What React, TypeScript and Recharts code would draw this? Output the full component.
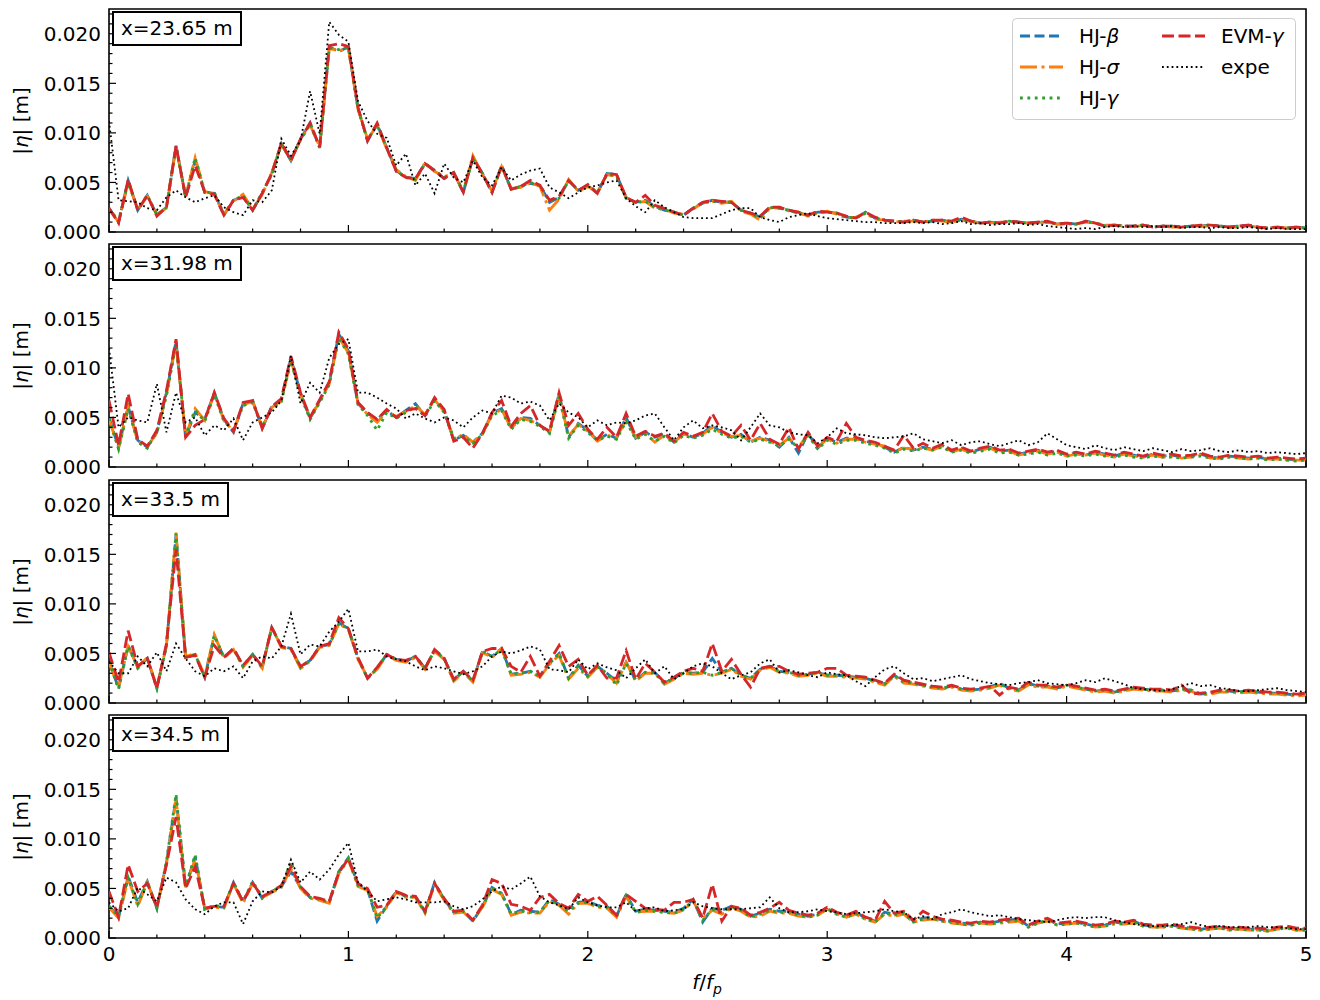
import React from 'react';
import { LineChart, Line, XAxis, YAxis, ReferenceArea } from 'recharts';

// frequency axis f/fp
const freq = [
  0, 0.04, 0.08, 0.12, 0.16, 0.2, 0.24, 0.28, 0.32, 0.36,
  0.4, 0.44, 0.48, 0.52, 0.56, 0.6, 0.64, 0.68, 0.72, 0.76,
  0.8, 0.84, 0.88, 0.92, 0.96, 1, 1.04, 1.08, 1.12, 1.16,
  1.2, 1.24, 1.28, 1.32, 1.36, 1.4, 1.44, 1.48, 1.52, 1.56,
  1.6, 1.64, 1.68, 1.72, 1.76, 1.8, 1.84, 1.88, 1.92, 1.96,
  2, 2.04, 2.08, 2.12, 2.16, 2.2, 2.24, 2.28, 2.32, 2.36,
  2.4, 2.44, 2.48, 2.52, 2.56, 2.6, 2.64, 2.68, 2.72, 2.76,
  2.8, 2.84, 2.88, 2.92, 2.96, 3, 3.04, 3.08, 3.12, 3.16,
  3.2, 3.24, 3.28, 3.32, 3.36, 3.4, 3.44, 3.48, 3.52, 3.56,
  3.6, 3.64, 3.68, 3.72, 3.76, 3.8, 3.84, 3.88, 3.92, 3.96,
  4, 4.04, 4.08, 4.12, 4.16, 4.2, 4.24, 4.28, 4.32, 4.36,
  4.4, 4.44, 4.48, 4.52, 4.56, 4.6, 4.64, 4.68, 4.72, 4.76,
  4.8, 4.84, 4.88, 4.92, 4.96, 5,
];

// |eta| values, in units of 1e-4 m
// ---- x = 23.65 m ----
const hjBeta1 = [
  24, 10, 52, 22, 37, 17, 25, 87, 35, 72,
  40, 39, 17, 32, 36, 22, 39, 59, 89, 72,
  94, 110, 85, 187, 182, 187, 125, 92, 109, 85,
  62, 55, 54, 69, 62, 54, 60, 40, 75, 59,
  40, 67, 43, 46, 49, 47, 30, 35, 52, 42,
  47, 39, 59, 58, 34, 30, 32, 26, 22, 20,
  17, 24, 29, 32, 30, 30, 22, 19, 15, 25,
  24, 22, 19, 17, 20, 20, 19, 15, 14, 20,
  14, 12, 11, 10, 12, 10, 11, 12, 10, 13,
  11, 9, 10, 9, 11, 10, 9, 10, 10, 8,
  9, 8, 11, 9, 6, 7, 6, 6, 7, 5,
  6, 6, 5, 6, 6, 7, 6, 5, 6, 7,
  5, 4, 5, 4, 5, 4,
];
const hjSigma1 = [
  23, 10, 50, 23, 36, 18, 24, 86, 36, 75,
  41, 38, 18, 31, 38, 23, 38, 60, 88, 73,
  93, 108, 86, 185, 183, 185, 124, 94, 107, 84,
  63, 56, 52, 70, 61, 56, 59, 41, 77, 58,
  41, 66, 44, 45, 50, 46, 22, 33, 53, 41,
  46, 40, 58, 56, 35, 29, 31, 24, 23, 19,
  18, 23, 30, 31, 29, 31, 21, 18, 12, 24,
  25, 21, 20, 16, 19, 21, 18, 14, 15, 19,
  13, 12, 10, 11, 11, 10, 12, 11, 10, 12,
  11, 9, 9, 10, 10, 10, 9, 9, 10, 8,
  8, 8, 10, 9, 7, 7, 6, 5, 7, 5,
  6, 5, 5, 6, 6, 6, 6, 5, 5, 6,
  5, 4, 5, 4, 4, 4,
];
const hjGamma1 = [
  24, 11, 50, 23, 37, 17, 25, 86, 36, 75,
  40, 40, 18, 32, 37, 22, 40, 58, 88, 73,
  93, 109, 85, 186, 184, 186, 124, 93, 108, 85,
  62, 55, 53, 69, 62, 55, 60, 41, 74, 59,
  40, 66, 43, 46, 50, 47, 31, 34, 52, 42,
  47, 40, 58, 57, 34, 30, 31, 25, 22, 20,
  17, 24, 29, 31, 30, 30, 22, 19, 14, 25,
  24, 22, 19, 17, 20, 20, 19, 15, 14, 19,
  14, 12, 11, 10, 12, 10, 11, 12, 10, 12,
  11, 9, 10, 9, 11, 10, 9, 10, 10, 8,
  9, 8, 10, 9, 6, 7, 6, 6, 7, 5,
  6, 6, 5, 6, 6, 7, 6, 5, 6, 6,
  5, 4, 5, 4, 5, 4,
];
const evmGamma1 = [
  24, 9, 53, 22, 37, 16, 25, 87, 35, 67,
  40, 38, 17, 32, 35, 22, 39, 59, 90, 72,
  94, 110, 86, 188, 190, 187, 126, 92, 110, 85,
  61, 55, 54, 69, 62, 54, 60, 40, 75, 59,
  40, 67, 43, 46, 52, 47, 32, 36, 52, 42,
  48, 39, 59, 58, 35, 30, 37, 27, 24, 20,
  17, 24, 30, 32, 31, 30, 22, 19, 16, 25,
  25, 22, 20, 17, 21, 20, 19, 16, 14, 20,
  15, 12, 11, 10, 12, 10, 12, 12, 11, 15,
  11, 9, 10, 9, 11, 10, 9, 10, 11, 8,
  9, 8, 11, 9, 6, 7, 6, 6, 7, 5,
  6, 6, 5, 6, 7, 7, 6, 5, 6, 7,
  5, 4, 5, 4, 5, 4,
];
const expe1 = [
  112, 32, 31, 30, 24, 22, 35, 42, 35, 30,
  34, 37, 25, 20, 17, 32, 30, 42, 94, 77,
  92, 142, 99, 212, 199, 192, 132, 112, 99, 95,
  67, 79, 47, 59, 39, 69, 55, 50, 72, 55,
  47, 65, 52, 58, 62, 64, 45, 40, 34, 40,
  45, 47, 50, 52, 34, 26, 20, 32, 25, 20,
  15, 14, 14, 14, 18, 22, 24, 24, 15, 12,
  10, 15, 17, 19, 16, 14, 13, 12, 11, 10,
  10, 9, 9, 9, 10, 9, 10, 8, 9, 11,
  8, 9, 7, 8, 8, 9, 7, 8, 6, 5,
  4, 3, 4, 3, 5, 6, 5, 6, 5, 6,
  5, 6, 4, 5, 5, 4, 5, 4, 4, 5,
  4, 3, 4, 3, 3, 3,
];

// ---- x = 31.98 m ----
const hjBeta2 = [
  50, 20, 61, 27, 20, 35, 75, 127, 30, 55,
  48, 75, 48, 35, 64, 67, 39, 61, 68, 110,
  74, 49, 67, 85, 134, 117, 64, 54, 48, 57,
  50, 57, 64, 52, 69, 57, 27, 32, 25, 34,
  54, 59, 40, 50, 49, 42, 35, 74, 30, 44,
  37, 27, 33, 29, 50, 29, 35, 30, 33, 25,
  34, 30, 34, 42, 35, 30, 33, 25, 30, 27,
  20, 30, 14, 34, 19, 29, 25, 29, 29, 26,
  24, 20, 15, 20, 17, 20, 18, 22, 16, 19,
  15, 18, 20, 16, 17, 13, 15, 17, 14, 16,
  12, 14, 12, 15, 13, 11, 14, 12, 10, 13,
  11, 12, 10, 11, 13, 10, 9, 11, 10, 9,
  10, 8, 9, 8, 7, 8,
];
const hjSigma2 = [
  48, 19, 60, 26, 21, 34, 73, 125, 31, 59,
  47, 74, 47, 36, 63, 66, 40, 60, 67, 108,
  73, 50, 66, 84, 131, 115, 65, 53, 45, 56,
  51, 56, 62, 53, 68, 56, 28, 33, 25, 33,
  53, 58, 39, 49, 47, 42, 36, 72, 31, 43,
  36, 26, 32, 30, 47, 30, 34, 25, 32, 25,
  33, 31, 33, 40, 34, 31, 32, 26, 29, 26,
  22, 29, 20, 33, 20, 28, 24, 28, 28, 25,
  23, 21, 16, 19, 18, 19, 17, 21, 15, 18,
  14, 17, 19, 15, 16, 12, 14, 16, 13, 15,
  11, 13, 12, 14, 12, 10, 13, 11, 10, 12,
  10, 11, 9, 10, 12, 9, 9, 10, 9, 8,
  9, 8, 8, 7, 7, 7,
];
const hjGamma2 = [
  49, 18, 59, 25, 19, 36, 72, 124, 32, 57,
  46, 73, 46, 37, 62, 65, 41, 59, 66, 107,
  72, 48, 65, 83, 130, 114, 63, 52, 37, 55,
  49, 55, 61, 51, 67, 55, 29, 31, 24, 33,
  52, 57, 38, 48, 46, 41, 34, 71, 29, 42,
  35, 27, 31, 28, 46, 28, 33, 26, 31, 24,
  32, 29, 32, 38, 33, 29, 31, 25, 28, 25,
  21, 28, 19, 32, 18, 27, 23, 27, 27, 24,
  22, 19, 14, 18, 16, 19, 17, 20, 15, 17,
  14, 16, 18, 14, 15, 12, 13, 15, 12, 14,
  11, 12, 11, 13, 11, 10, 12, 10, 9, 11,
  10, 10, 9, 10, 11, 9, 8, 10, 9, 8,
  9, 7, 8, 7, 6, 7,
];
const evmGamma2 = [
  67, 22, 74, 28, 21, 37, 77, 129, 30, 42,
  48, 75, 49, 36, 65, 67, 39, 61, 69, 112,
  75, 50, 68, 86, 136, 119, 65, 55, 48, 58,
  50, 57, 59, 52, 70, 58, 26, 30, 19, 34,
  55, 67, 41, 54, 62, 42, 36, 75, 42, 54,
  38, 28, 40, 30, 54, 31, 36, 31, 34, 26,
  35, 31, 35, 54, 36, 31, 42, 27, 44, 28,
  23, 40, 18, 35, 21, 30, 26, 44, 30, 27,
  25, 21, 17, 32, 19, 24, 19, 23, 17, 20,
  16, 19, 21, 17, 18, 14, 16, 18, 15, 17,
  13, 15, 13, 16, 14, 12, 15, 13, 11, 14,
  12, 13, 11, 12, 14, 11, 10, 12, 11, 10,
  11, 9, 10, 9, 8, 9,
];
const expe2 = [
  120, 40, 50, 47, 45, 84, 35, 75, 45, 50,
  32, 42, 37, 49, 27, 45, 50, 55, 67, 112,
  64, 85, 75, 110, 124, 129, 75, 75, 70, 64,
  59, 49, 54, 49, 45, 50, 47, 40, 50, 57,
  54, 72, 70, 64, 66, 62, 47, 64, 55, 50,
  40, 47, 42, 45, 44, 47, 52, 54, 40, 27,
  40, 47, 39, 42, 40, 37, 27, 40, 54, 42,
  40, 35, 33, 32, 24, 30, 39, 34, 33, 32,
  30, 29, 30, 31, 34, 28, 26, 24, 27, 22,
  25, 26, 23, 21, 24, 27, 22, 25, 34, 28,
  22, 20, 18, 22, 19, 17, 20, 18, 16, 19,
  17, 15, 18, 16, 17, 19, 16, 15, 17, 15,
  16, 14, 15, 14, 13, 14,
];

// ---- x = 33.5 m ----
const hjBeta3 = [
  42, 15, 58, 36, 45, 15, 58, 170, 46, 49,
  26, 68, 46, 55, 37, 49, 36, 76, 57, 55,
  36, 43, 57, 59, 81, 75, 45, 25, 35, 49,
  44, 42, 47, 35, 53, 45, 23, 32, 22, 52,
  47, 55, 29, 30, 32, 27, 40, 50, 25, 38,
  27, 37, 30, 22, 41, 23, 31, 31, 20, 25,
  31, 30, 31, 45, 31, 35, 28, 25, 34, 37,
  32, 31, 28, 29, 31, 28, 28, 27, 26, 25,
  22, 19, 28, 21, 20, 18, 16, 15, 17, 14,
  13, 14, 16, 20, 15, 13, 20, 17, 17, 15,
  18, 16, 14, 12, 13, 11, 13, 15, 14, 13,
  13, 12, 14, 13, 9, 10, 12, 12, 11, 12,
  11, 10, 10, 9, 8, 9,
];
const hjSigma3 = [
  41, 16, 57, 36, 46, 16, 58, 172, 47, 50,
  27, 69, 45, 54, 36, 48, 35, 77, 56, 54,
  35, 42, 56, 58, 80, 74, 44, 26, 34, 48,
  43, 41, 46, 34, 52, 44, 22, 31, 21, 51,
  46, 55, 28, 29, 31, 26, 39, 48, 24, 35,
  26, 36, 29, 20, 41, 22, 30, 30, 19, 24,
  30, 29, 30, 28, 30, 34, 27, 24, 33, 36,
  31, 30, 27, 28, 30, 27, 27, 26, 25, 24,
  21, 18, 27, 20, 19, 17, 15, 14, 16, 13,
  12, 13, 15, 18, 14, 12, 18, 16, 16, 14,
  17, 15, 13, 11, 12, 10, 12, 14, 13, 12,
  12, 11, 13, 12, 8, 9, 11, 11, 10, 11,
  10, 9, 9, 8, 7, 8,
];
const hjGamma3 = [
  42, 14, 57, 35, 45, 15, 57, 171, 46, 49,
  26, 68, 46, 55, 37, 49, 36, 76, 57, 55,
  36, 43, 57, 59, 80, 75, 45, 25, 35, 49,
  44, 42, 47, 35, 53, 45, 23, 32, 22, 52,
  47, 54, 29, 30, 32, 27, 40, 50, 25, 37,
  27, 37, 30, 18, 40, 23, 31, 30, 20, 25,
  30, 30, 31, 28, 31, 35, 28, 25, 34, 37,
  32, 31, 28, 29, 31, 28, 28, 27, 26, 25,
  22, 19, 28, 21, 20, 18, 16, 15, 17, 14,
  13, 14, 16, 19, 15, 13, 19, 17, 17, 15,
  18, 16, 14, 12, 13, 11, 13, 15, 14, 13,
  13, 12, 14, 13, 9, 10, 12, 12, 11, 12,
  11, 10, 10, 9, 8, 9,
];
const evmGamma3 = [
  51, 21, 73, 37, 45, 15, 60, 155, 46, 48,
  26, 58, 46, 55, 38, 49, 37, 76, 57, 55,
  37, 43, 57, 60, 86, 75, 46, 25, 36, 49,
  44, 43, 47, 35, 54, 45, 24, 32, 23, 52,
  55, 55, 37, 31, 47, 27, 42, 58, 37, 44,
  28, 38, 25, 25, 53, 24, 40, 31, 21, 26,
  32, 35, 32, 60, 32, 44, 29, 16, 35, 37,
  37, 32, 29, 30, 31, 35, 35, 28, 27, 26,
  23, 20, 29, 23, 21, 19, 17, 16, 18, 15,
  14, 15, 17, 8, 16, 14, 21, 18, 18, 16,
  19, 17, 15, 13, 14, 12, 14, 16, 15, 14,
  14, 13, 18, 9, 10, 11, 13, 13, 12, 13,
  12, 11, 11, 10, 9, 10,
];
const expe3 = [
  42, 30, 30, 47, 37, 51, 32, 60, 45, 32,
  27, 35, 32, 37, 25, 42, 47, 45, 57, 90,
  49, 59, 57, 72, 82, 95, 52, 52, 54, 47,
  44, 42, 37, 33, 37, 35, 32, 29, 32, 37,
  47, 52, 50, 53, 57, 54, 34, 33, 31, 44,
  34, 40, 36, 33, 25, 35, 44, 30, 37, 24,
  30, 37, 40, 37, 30, 24, 28, 31, 40, 44,
  31, 33, 31, 28, 26, 31, 29, 28, 22, 17,
  26, 34, 37, 30, 24, 25, 22, 24, 26, 28,
  24, 22, 20, 19, 18, 20, 21, 23, 20, 19,
  18, 20, 23, 21, 25, 22, 19, 15, 14, 13,
  12, 14, 17, 20, 17, 18, 15, 14, 12, 12,
  13, 14, 15, 13, 12, 11,
];

// ---- x = 34.5 m ----
const hjBeta4 = [
  32, 21, 62, 36, 57, 30, 76, 142, 52, 82,
  29, 32, 31, 56, 36, 56, 40, 47, 52, 67,
  51, 41, 39, 36, 67, 81, 54, 49, 17, 32,
  47, 42, 42, 26, 56, 39, 26, 27, 17, 32,
  51, 45, 24, 28, 27, 26, 39, 34, 30, 36,
  37, 33, 32, 22, 44, 27, 29, 28, 27, 26,
  30, 39, 16, 30, 28, 32, 29, 22, 25, 29,
  27, 27, 24, 22, 24, 31, 25, 22, 26, 20,
  17, 26, 24, 26, 17, 20, 21, 18, 17, 15,
  14, 16, 15, 17, 18, 19, 12, 16, 19, 14,
  15, 16, 14, 12, 13, 16, 15, 17, 13, 12,
  12, 13, 11, 10, 9, 10, 11, 9, 10, 9,
  9, 8, 10, 11, 9, 9,
];
const hjSigma4 = [
  31, 20, 60, 32, 56, 31, 75, 140, 51, 80,
  30, 31, 30, 55, 35, 55, 41, 46, 51, 70,
  50, 40, 38, 35, 65, 79, 52, 48, 22, 31,
  46, 41, 41, 25, 54, 38, 25, 26, 18, 31,
  49, 44, 23, 26, 25, 25, 37, 33, 24, 35,
  35, 31, 30, 21, 42, 26, 27, 27, 26, 25,
  28, 37, 20, 28, 24, 30, 27, 21, 22, 27,
  25, 25, 22, 21, 23, 29, 24, 21, 24, 19,
  16, 24, 22, 24, 16, 18, 19, 17, 15, 14,
  13, 15, 14, 15, 16, 17, 11, 15, 17, 13,
  14, 15, 13, 11, 12, 14, 14, 15, 12, 11,
  11, 12, 10, 9, 8, 9, 10, 8, 9, 8,
  8, 7, 9, 10, 8, 8,
];
const hjGamma4 = [
  32, 22, 61, 34, 57, 30, 77, 145, 52, 84,
  29, 33, 31, 56, 37, 57, 41, 47, 52, 77,
  51, 41, 39, 36, 67, 80, 53, 49, 20, 32,
  46, 42, 41, 26, 55, 39, 26, 27, 18, 32,
  50, 45, 24, 27, 26, 26, 38, 33, 27, 35,
  36, 32, 31, 22, 43, 26, 28, 27, 26, 25,
  29, 38, 18, 29, 26, 31, 28, 21, 24, 28,
  26, 26, 23, 21, 23, 30, 24, 21, 25, 19,
  16, 25, 23, 25, 16, 19, 20, 17, 16, 14,
  13, 15, 14, 16, 17, 18, 11, 15, 18, 13,
  14, 15, 13, 11, 12, 15, 14, 16, 12, 11,
  11, 12, 10, 9, 8, 9, 10, 8, 9, 8,
  8, 7, 9, 10, 8, 8,
];
const evmGamma4 = [
  47, 21, 74, 47, 55, 31, 74, 122, 50, 72,
  30, 32, 32, 55, 37, 55, 42, 47, 53, 72,
  52, 42, 40, 37, 66, 80, 55, 50, 31, 33,
  47, 43, 42, 27, 55, 40, 27, 28, 18, 33,
  59, 55, 34, 32, 28, 41, 44, 35, 30, 44,
  37, 42, 33, 23, 44, 37, 30, 29, 28, 36,
  36, 39, 20, 54, 17, 32, 30, 23, 26, 30,
  36, 28, 25, 23, 25, 31, 26, 23, 27, 21,
  18, 37, 25, 27, 18, 27, 22, 19, 18, 16,
  15, 17, 16, 18, 19, 20, 13, 17, 20, 15,
  16, 17, 15, 13, 14, 17, 16, 18, 14, 13,
  13, 14, 12, 11, 10, 11, 12, 10, 11, 10,
  10, 9, 11, 12, 10, 10,
];
const expe4 = [
  36, 27, 30, 51, 44, 37, 61, 56, 39, 29,
  24, 32, 36, 36, 14, 37, 47, 46, 52, 79,
  56, 67, 59, 69, 84, 96, 56, 47, 37, 39,
  41, 39, 36, 36, 36, 37, 32, 29, 32, 39,
  47, 52, 49, 55, 62, 42, 36, 33, 29, 41,
  36, 33, 31, 31, 36, 27, 30, 31, 27, 28,
  29, 36, 32, 30, 29, 29, 29, 30, 31, 41,
  30, 26, 26, 27, 29, 27, 26, 24, 25, 26,
  27, 29, 27, 26, 19, 22, 19, 24, 26, 29,
  26, 24, 22, 23, 21, 19, 18, 17, 16, 18,
  20, 21, 20, 21, 21, 18, 16, 14, 13, 12,
  12, 13, 14, 16, 13, 11, 12, 11, 11, 11,
  12, 11, 11, 10, 9, 9,
];

const panelLabels = ['x=23.65 m', 'x=31.98 m', 'x=33.5 m', 'x=34.5 m'];

const xTicks = [0, 0.2, 0.4, 0.6, 0.8, 1, 1.2, 1.4, 1.6, 1.8, 2, 2.2, 2.4, 2.6, 2.8, 3, 3.2, 3.4, 3.6, 3.8, 4, 4.2, 4.4, 4.6, 4.8, 5];
const yTicks = [0, 0.001, 0.002, 0.003, 0.004, 0.005, 0.006, 0.007, 0.008, 0.009, 0.01, 0.011, 0.012, 0.013, 0.014, 0.015, 0.016, 0.017, 0.018, 0.019, 0.02, 0.021, 0.022];

const panels = [
  { beta: hjBeta1, sigma: hjSigma1, gamma: hjGamma1, evm: evmGamma1, expe: expe1 },
  { beta: hjBeta2, sigma: hjSigma2, gamma: hjGamma2, evm: evmGamma2, expe: expe2 },
  { beta: hjBeta3, sigma: hjSigma3, gamma: hjGamma3, evm: evmGamma3, expe: expe3 },
  { beta: hjBeta4, sigma: hjSigma4, gamma: hjGamma4, evm: evmGamma4, expe: expe4 },
];

const conv = (v: number | undefined) => (v == null ? null : v / 10000);

function buildRows(p: any) {
  return freq.map((f, i) => ({
    f,
    beta: conv(p.beta[i]),
    sigma: conv(p.sigma[i]),
    gamma: conv(p.gamma[i]),
    evm: conv(p.evm[i]),
    expe: conv(p.expe[i]),
  }));
}

const FONT = "'DejaVu Sans', 'Liberation Sans', sans-serif";
const C_BLUE = '#1f77b4';
const C_ORANGE = '#ff7f0e';
const C_GREEN = '#2ca02c';
const C_RED = '#d62728';

const series = [
  { key: 'beta', color: C_BLUE, dash: '10 4.5', width: 2.8 },
  { key: 'sigma', color: C_ORANGE, dash: '17 4.5 3 4.5', width: 2.8 },
  { key: 'gamma', color: C_GREEN, dash: '2.8 4.6', width: 2.8 },
  { key: 'evm', color: C_RED, dash: '12 4.5', width: 2.8 },
  { key: 'expe', color: '#000000', dash: '1.8 3', width: 1.8 },
];

const makeXTick = (showLabel: boolean) => (props: any) => {
  const { x, y, payload } = props;
  const v = payload.value as number;
  const major = Math.abs(v - Math.round(v)) < 1e-9;
  return (
    <g>
      <line x1={x} x2={x} y1={y} y2={y - (major ? 7 : 3.5)} stroke="#000" strokeWidth={1.2} />
      {showLabel && major ? (
        <text x={x} y={y + 23} textAnchor="middle" fontSize={20} fontFamily={FONT} fill="#000">
          {String(Math.round(v))}
        </text>
      ) : null}
    </g>
  );
};

const YTick = (props: any) => {
  const { x, y, payload } = props;
  const v = payload.value as number;
  const major = Math.round(v * 1000) % 5 === 0;
  return (
    <g>
      <line x1={x} x2={x + (major ? 7 : 3.5)} y1={y} y2={y} stroke="#000" strokeWidth={1.2} />
      {major ? (
        <text x={x - 8} y={y} dy="0.36em" textAnchor="end" fontSize={20} fontFamily={FONT} fill="#000">
          {v.toFixed(3)}
        </text>
      ) : null}
    </g>
  );
};

const W = 1312;
const PLOT_TOPS = [1, 236, 472, 707];
const PLOT_H = 223;
const X_AXIS_H = 1;

function Panel({ idx }: { idx: number }) {
  const isLast = idx === 3;
  const mt = 14;
  const mb = isLast ? 34 : 14;
  const rows = buildRows(panels[idx]);
  return (
    <div style={{ position: 'absolute', left: 0, top: PLOT_TOPS[idx] - mt }}>
      <LineChart
        width={W}
        height={PLOT_H + mt + mb + X_AXIS_H}
        data={rows}
        margin={{ top: mt, right: 14, bottom: mb, left: 41 }}
        style={{ overflow: 'visible' }}
      >
        <XAxis
          dataKey="f"
          type="number"
          domain={[0, 5]}
          ticks={xTicks}
          interval={0}
          height={X_AXIS_H}
          tickSize={0}
          tickMargin={0}
          axisLine={false}
          tickLine={false}
          tick={makeXTick(isLast)}
          allowDataOverflow
        />
        <YAxis
          type="number"
          domain={[0, 0.0225]}
          ticks={yTicks}
          interval={0}
          width={60}
          tickSize={0}
          tickMargin={0}
          axisLine={false}
          tickLine={false}
          tick={YTick}
          allowDataOverflow
        />
        {series.map((s) => (
          <Line
            key={s.key}
            dataKey={s.key}
            type="linear"
            stroke={s.color}
            strokeWidth={s.width}
            strokeDasharray={s.dash}
            dot={false}
            activeDot={false}
            isAnimationActive={false}
            connectNulls
          />
        ))}
        <ReferenceArea x1={0} x2={5} y1={0} y2={0.0225} fill="none" fillOpacity={0} stroke="#000" strokeWidth={1.6} strokeOpacity={1} />
      </LineChart>
    </div>
  );
}

function Legend() {
  const rows = [
    { x: 8, y: 18, s: series[0], label: (<>HJ-<tspan fontStyle="italic">β</tspan></>) },
    { x: 8, y: 49, s: series[1], label: (<>HJ-<tspan fontStyle="italic">σ</tspan></>) },
    { x: 8, y: 80, s: series[2], label: (<>HJ-<tspan fontStyle="italic">γ</tspan></>) },
    { x: 150, y: 18, s: series[3], label: (<>EVM-<tspan fontStyle="italic">γ</tspan></>) },
    { x: 150, y: 49, s: series[4], label: (<>expe</>) },
  ];
  return (
    <svg style={{ position: 'absolute', left: 1004, top: 10 }} width={284} height={102}>
      <rect x={0.5} y={0.5} width={283} height={101} rx={4} ry={4} fill="#ffffff" fillOpacity={0.8} stroke="#cccccc" strokeWidth={1} />
      {rows.map((r, i) => (
        <g key={i}>
          <line x1={r.x} x2={r.x + 43} y1={r.y} y2={r.y} stroke={r.s.color} strokeWidth={r.s.width} strokeDasharray={r.s.dash} />
          <text x={r.x + 59} y={r.y} dy="0.36em" fontSize={20} fontFamily={FONT} fill="#000">
            {r.label}
          </text>
        </g>
      ))}
    </svg>
  );
}

export default function App() {
  return (
    <div style={{ position: 'relative', width: W, height: 992, fontFamily: FONT, background: '#fff' }}>
      {[0, 1, 2, 3].map((i) => (
        <Panel key={i} idx={i} />
      ))}
      {panelLabels.map((lab, i) => (
        <div
          key={lab}
          style={{
            position: 'absolute',
            left: 104,
            top: PLOT_TOPS[i] + 2,
            border: '2px solid #000',
            background: '#fff',
            padding: '0 7px',
            fontSize: 20,
            lineHeight: '31px',
            fontFamily: FONT,
            whiteSpace: 'nowrap',
            color: '#000',
          }}
        >
          {lab}
        </div>
      ))}
      {PLOT_TOPS.map((t, i) => (
        <div
          key={'yl' + i}
          style={{
            position: 'absolute',
            left: 13,
            top: t + PLOT_H / 2,
            transform: 'translate(-50%, -50%) rotate(-90deg)',
            fontSize: 20,
            fontFamily: FONT,
            whiteSpace: 'nowrap',
            color: '#000',
          }}
        >
          |<i>η</i>| [m]
        </div>
      ))}
      <div
        style={{
          position: 'absolute',
          left: 699,
          top: 962,
          transform: 'translateX(-50%)',
          fontSize: 20,
          fontFamily: FONT,
          whiteSpace: 'nowrap',
          color: '#000',
        }}
      >
        <i>f</i>/<i>f</i>
        <sub style={{ fontSize: 14, fontStyle: 'italic' }}>p</sub>
      </div>
      <Legend />
    </div>
  );
}
